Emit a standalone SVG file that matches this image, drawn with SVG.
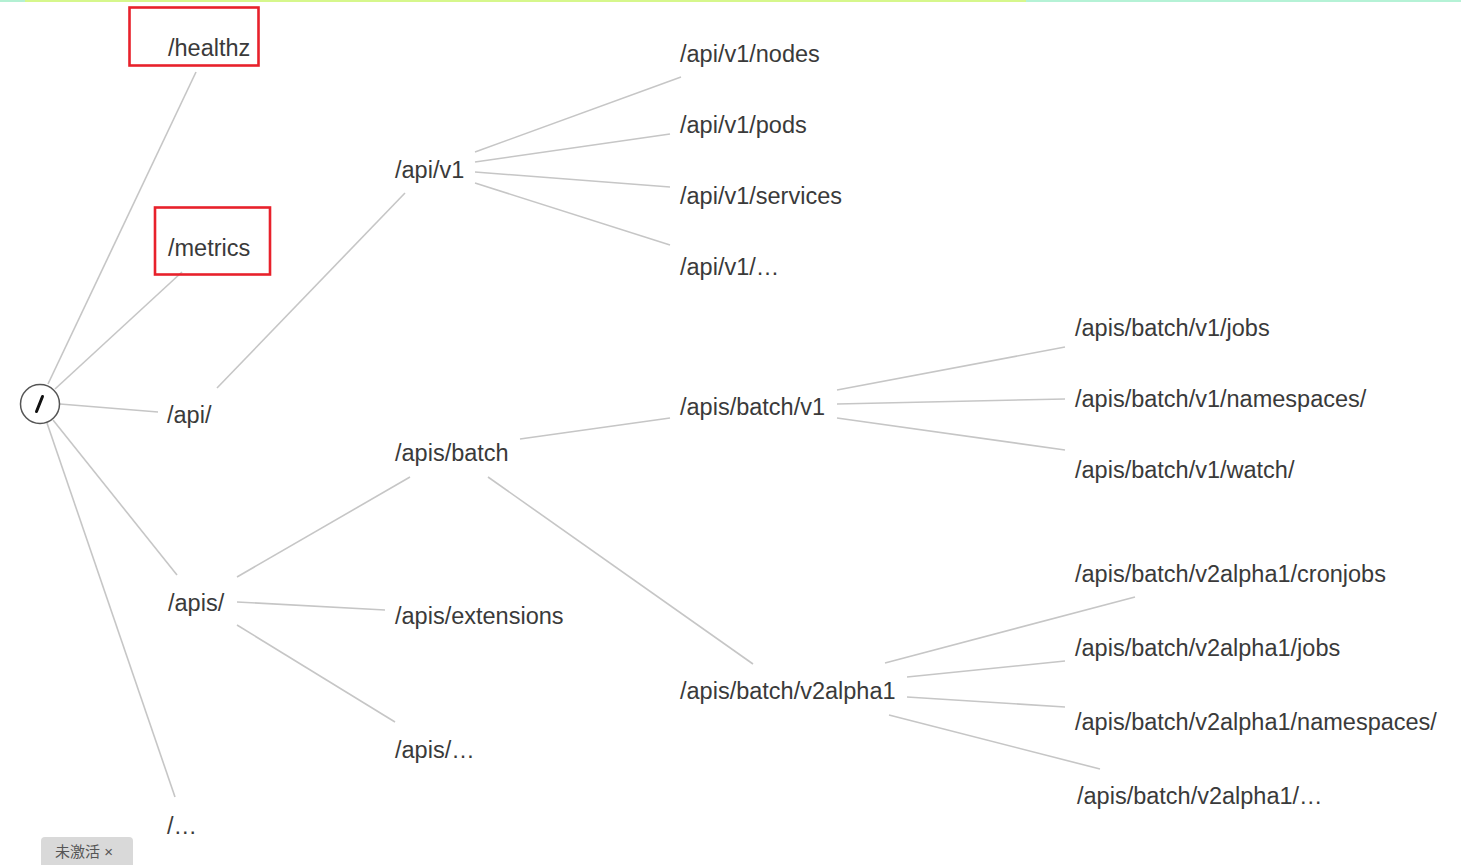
<svg xmlns="http://www.w3.org/2000/svg" width="1461" height="865" viewBox="0 0 1461 865">
<style>
.bg{fill:#ffffff}
.lbl{font-family:"Liberation Sans",Arial,Helvetica,sans-serif;font-size:23.5px;fill:#3a3a3a}
.conn line{stroke:#c6c6c6;stroke-width:1.6;fill:none}
.hl{fill:none;stroke:#e8212b;stroke-width:2.6}
.badge-text{font-family:"Liberation Sans","Noto Sans CJK SC",sans-serif;font-size:15px;fill:#555555}
</style>
<rect class="bg" x="0" y="0" width="1461" height="865"/>
<g id="topbar">
<rect x="0" y="0" width="25" height="2" fill="#b3f0d3"/>
<rect x="25" y="0" width="1001" height="2" fill="#d6f78c"/>
<rect x="1026" y="0" width="435" height="2" fill="#b5f2d6"/>
</g>
<g id="connectors" class="conn">
<line x1="48" y1="384" x2="196" y2="72"/>
<line x1="55" y1="389" x2="182" y2="272"/>
<line x1="60" y1="404" x2="158" y2="412"/>
<line x1="53" y1="420" x2="177" y2="575"/>
<line x1="47" y1="423" x2="175" y2="797"/>
<line x1="217" y1="388" x2="405" y2="193"/>
<line x1="475" y1="152" x2="681" y2="77"/>
<line x1="475" y1="162" x2="670" y2="134"/>
<line x1="475" y1="172" x2="670" y2="187"/>
<line x1="475" y1="183" x2="670" y2="245"/>
<line x1="237" y1="577" x2="410" y2="477"/>
<line x1="237" y1="602" x2="385" y2="610"/>
<line x1="237" y1="625" x2="395" y2="722"/>
<line x1="520" y1="439" x2="670" y2="418"/>
<line x1="488" y1="477" x2="753" y2="664"/>
<line x1="837" y1="390" x2="1065" y2="347"/>
<line x1="837" y1="404" x2="1065" y2="399"/>
<line x1="837" y1="418" x2="1065" y2="450"/>
<line x1="885" y1="663" x2="1135" y2="597"/>
<line x1="907" y1="677" x2="1065" y2="661"/>
<line x1="907" y1="697" x2="1065" y2="707"/>
<line x1="889" y1="715" x2="1100" y2="769"/>
</g>
<g id="root">
<circle cx="40" cy="404" r="19.5" fill="#ffffff" stroke="#555555" stroke-width="1.5"/>
<line x1="36.5" y1="411.5" x2="42.5" y2="396.5" stroke="#111111" stroke-width="3" stroke-linecap="round"/>
</g>
<g id="n-healthz">
<rect class="hl" x="129.5" y="7.5" width="129" height="58"/>
<text class="lbl" x="168" y="56">/healthz</text>
</g>
<g id="n-metrics">
<rect class="hl" x="155" y="207.5" width="115" height="67"/>
<text class="lbl" x="168" y="256">/metrics</text>
</g>
<g id="n-api"><text class="lbl" x="167" y="423">/api/</text></g>
<g id="n-apis"><text class="lbl" x="168" y="611">/apis/</text></g>
<g id="n-etc"><text class="lbl" x="167" y="834">/…</text></g>
<g id="n-api-v1"><text class="lbl" x="395" y="178">/api/v1</text></g>
<g id="n-api-v1-nodes"><text class="lbl" x="680" y="62">/api/v1/nodes</text></g>
<g id="n-api-v1-pods"><text class="lbl" x="680" y="133">/api/v1/pods</text></g>
<g id="n-api-v1-services"><text class="lbl" x="680" y="204">/api/v1/services</text></g>
<g id="n-api-v1-etc"><text class="lbl" x="680" y="275">/api/v1/…</text></g>
<g id="n-apis-batch"><text class="lbl" x="395" y="461">/apis/batch</text></g>
<g id="n-apis-extensions"><text class="lbl" x="395" y="624">/apis/extensions</text></g>
<g id="n-apis-etc"><text class="lbl" x="395" y="758">/apis/…</text></g>
<g id="n-batch-v1"><text class="lbl" x="680" y="415">/apis/batch/v1</text></g>
<g id="n-batch-v2alpha1"><text class="lbl" x="680" y="699">/apis/batch/v2alpha1</text></g>
<g id="n-v1-jobs"><text class="lbl" x="1075" y="336">/apis/batch/v1/jobs</text></g>
<g id="n-v1-namespaces"><text class="lbl" x="1075" y="407">/apis/batch/v1/namespaces/</text></g>
<g id="n-v1-watch"><text class="lbl" x="1075" y="478">/apis/batch/v1/watch/</text></g>
<g id="n-v2-cronjobs"><text class="lbl" x="1075" y="582">/apis/batch/v2alpha1/cronjobs</text></g>
<g id="n-v2-jobs"><text class="lbl" x="1075" y="656">/apis/batch/v2alpha1/jobs</text></g>
<g id="n-v2-namespaces"><text class="lbl" x="1075" y="730">/apis/batch/v2alpha1/namespaces/</text></g>
<g id="n-v2-etc"><text class="lbl" x="1077" y="804">/apis/batch/v2alpha1/…</text></g>
<g id="badge">
<rect x="41" y="837" width="92" height="34" rx="4" fill="#d9d9d9"/>
<text class="badge-text" x="55" y="857">未激活 ×</text>
</g>
</svg>
